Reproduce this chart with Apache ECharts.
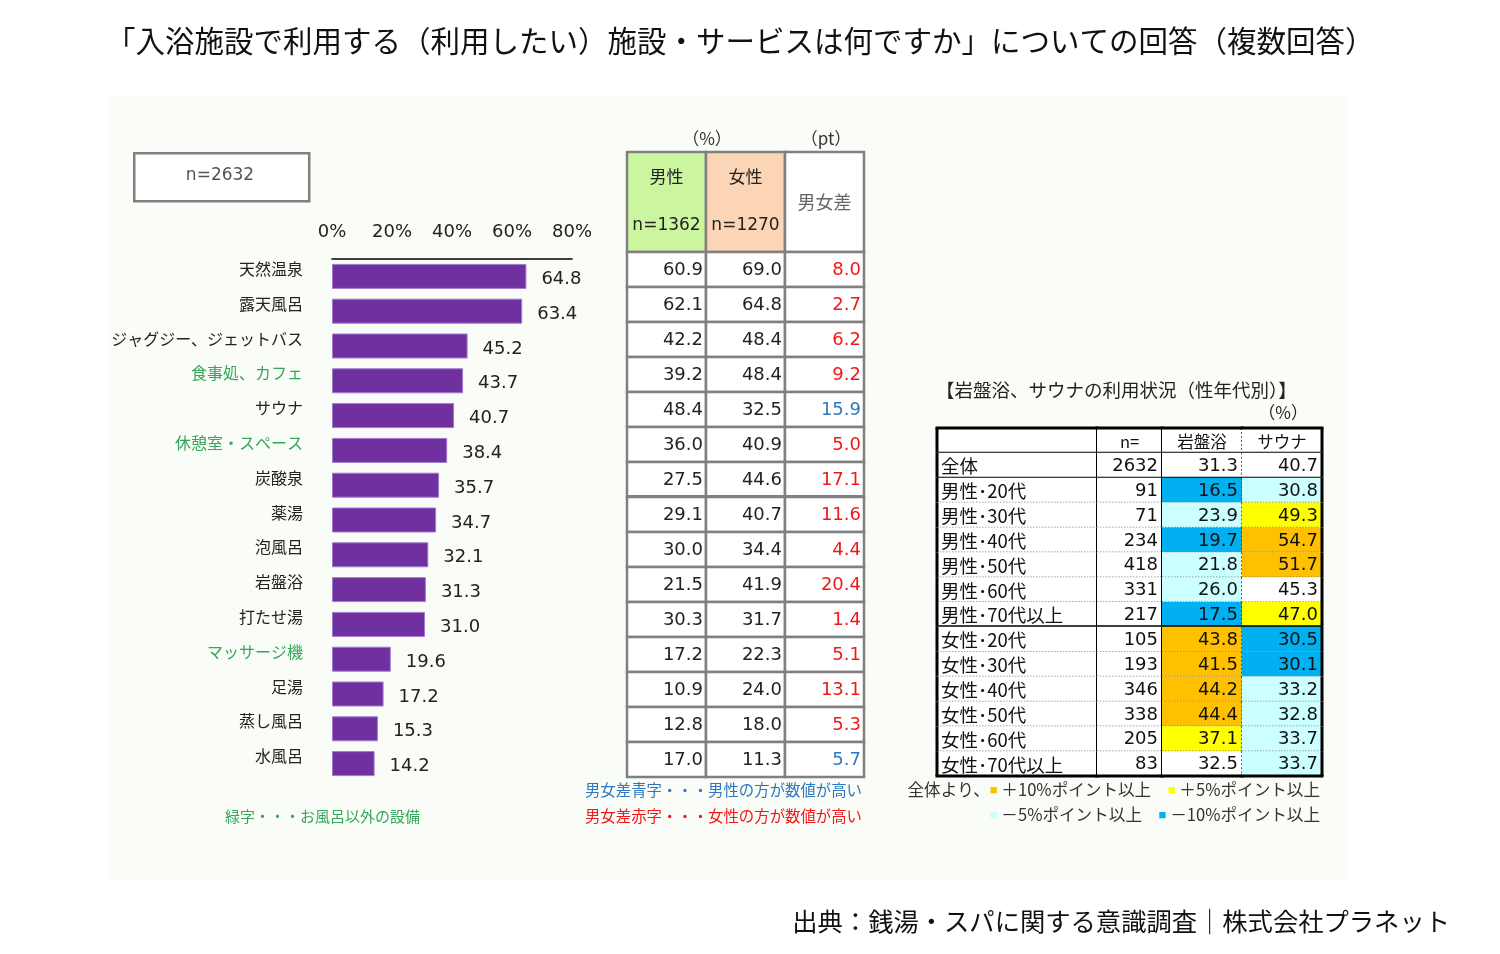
<!DOCTYPE html>
<html><head><meta charset="utf-8">
<script src="https://cdn.jsdelivr.net/npm/echarts@6/dist/echarts.min.js"></script>
<style>html,body{margin:0;padding:0;background:#fff}#c{width:1500px;height:954px}</style>
</head><body><div id="c"></div>
<script>
// ---------- data ----------
const categories = ['天然温泉','露天風呂','ジャグジー、ジェットバス','食事処、カフェ','サウナ','休憩室・スペース','炭酸泉','薬湯','泡風呂','岩盤浴','打たせ湯','マッサージ機','足湯','蒸し風呂','水風呂'];
const nonBathItems = ['食事処、カフェ','休憩室・スペース','マッサージ機'];
const totalValues = [64.8,63.4,45.2,43.7,40.7,38.4,35.7,34.7,32.1,31.3,31.0,19.6,17.2,15.3,14.2];
const axisMin = 0, axisMax = 80, axisStep = 20;
const maleValues = [60.9,62.1,42.2,39.2,48.4,36.0,27.5,29.1,30.0,21.5,30.3,17.2,10.9,12.8,17.0];
const femaleValues = [69.0,64.8,48.4,48.4,32.5,40.9,44.6,40.7,34.4,41.9,31.7,22.3,24.0,18.0,11.3];
const genderGap = [8.0,2.7,6.2,9.2,15.9,5.0,17.1,11.6,4.4,20.4,1.4,5.1,13.1,5.3,5.7];
const genderHeaders = ['男性','女性','男女差'];
const genderN = ['n=1362','n=1270',''];
const segRows = ['全体','男性･20代','男性･30代','男性･40代','男性･50代','男性･60代','男性･70代以上','女性･20代','女性･30代','女性･40代','女性･50代','女性･60代','女性･70代以上'];
const segN = [2632,91,71,234,418,331,217,105,193,346,338,205,83];
const ganbanValues = [31.3,16.5,23.9,19.7,21.8,26.0,17.5,43.8,41.5,44.2,44.4,37.1,32.5];
const saunaValues = [40.7,30.8,49.3,54.7,51.7,45.3,47.0,30.5,30.1,33.2,32.8,33.7,33.7];
const segHeaders = ['', 'n=', '岩盤浴', 'サウナ'];

// ---------- style ----------
const JP = '"Noto Sans CJK JP"';
const NUM = '"DejaVu Sans"';
const GREEN = '#35a65a';
const BLUE_TXT = '#2f78c0';
const RED_TXT = '#f01818';
const C_ORANGE = '#ffc000', C_YELLOW = '#ffff00', C_CYAN = '#ccffff', C_BLUE = '#00b0f0';

function diffColor(v, base) {
  const d = v - base;
  if (d >= 10) return C_ORANGE;
  if (d >= 5) return C_YELLOW;
  if (d <= -10) return C_BLUE;
  if (d <= -5) return C_CYAN;
  return '#ffffff';
}

const chart = echarts.init(document.getElementById('c'), null, {renderer: 'canvas'});

function cellBox(api, c, r) {
  const p = api.coord([c, r]);
  const s = api.size([1, 1]);
  return {x0: p[0] - s[0] / 2, y0: p[1] - s[1] / 2, w: s[0], h: s[1]};
}
function txt(text, x, y, size, family, color, align) {
  return {type: 'text', style: {text: text, x: x, y: y, fontSize: size, fontFamily: family, fill: color, align: align, verticalAlign: 'middle'}};
}
function ln(x1, y1, x2, y2, color, w, dash) {
  return {type: 'line', shape: {x1: x1, y1: y1, x2: x2, y2: y2}, style: {stroke: color, lineWidth: w, lineDash: dash || null}};
}

// middle table header
function genderHeadRender(params, api) {
  const c = api.value(0);
  const b = cellBox(api, c, 0);
  const fills = ['#ccf5a0', '#fbd5b5', '#ffffff'];
  const ch = [{type: 'rect', shape: {x: b.x0, y: b.y0, width: b.w, height: b.h}, style: {fill: fills[c], stroke: '#808080', lineWidth: 2.5}}];
  if (c < 2) {
    ch.push(txt(genderHeaders[c], b.x0 + b.w / 2, b.y0 + 25, 17, JP, '#222', 'center'));
    ch.push(txt(genderN[c], b.x0 + b.w / 2, b.y0 + 74, 17, NUM, '#222', 'center'));
  } else {
    ch.push(txt(genderHeaders[c], b.x0 + b.w / 2, b.y0 + 50, 18, JP, '#666', 'center'));
  }
  return {type: 'group', children: ch};
}
// middle table body
function genderBodyRender(params, api) {
  const c = api.value(0), r = api.value(1);
  const b = cellBox(api, c, r);
  let t, color = '#222';
  if (c === 0) t = maleValues[r].toFixed(1);
  else if (c === 1) t = femaleValues[r].toFixed(1);
  else { t = genderGap[r].toFixed(1); color = maleValues[r] > femaleValues[r] ? BLUE_TXT : RED_TXT; }
  const ch = [
    {type: 'rect', shape: {x: b.x0, y: b.y0, width: b.w, height: b.h}, style: {fill: '#fff', stroke: '#808080', lineWidth: 2.5}},
    txt(t, b.x0 + b.w - 3, b.y0 + b.h / 2 + 1, 18, NUM, color, 'right')
  ];
  if (r === 6) ch.push(ln(b.x0, b.y0 + b.h, b.x0 + b.w, b.y0 + b.h, '#808080', 4));
  return {type: 'group', children: ch};
}
// right table
function segRender(col) {
  return function (params, api) {
    const r = params.dataIndex;
    const b = cellBox(api, 0, r);
    let fill = '#fff', t = '', align = 'right', size = 18, fam = NUM, tx = b.x0 + b.w - 4;
    if (r === 0) {
      t = segHeaders[col]; align = 'center'; tx = b.x0 + b.w / 2; size = 16.5; fam = JP;
    } else {
      const i = r - 1;
      if (col === 0) { t = segRows[i]; align = 'left'; tx = b.x0 + 4; fam = JP; size = 18.5; }
      else if (col === 1) t = String(segN[i]);
      else {
        const arr = col === 2 ? ganbanValues : saunaValues;
        t = arr[i].toFixed(1);
        if (i > 0) fill = diffColor(arr[i], arr[0]);
      }
    }
    const x1 = b.x0, x2 = b.x0 + b.w, y1 = b.y0, y2 = b.y0 + b.h;
    const ch = [{type: 'rect', shape: {x: x1, y: y1, width: b.w, height: b.h}, style: {fill: fill}},
      txt(t, tx, (y1 + y2) / 2 + 1, size, fam, '#111', align)];
    if (r === 13) ch.push(ln(x1 - 1.5, y2, x2 + 1.5, y2, '#000', 3));
    else if (r === 7) ch.push(ln(x1, y2, x2, y2, '#000', 3));
    else if (r <= 1) ch.push(ln(x1, y2, x2, y2, '#000', 2));
    else ch.push(ln(x1, y2, x2, y2, '#888', 1.5, [1.5, 1.5]));
    if (r === 0) ch.push(ln(x1 - 1.5, y1, x2 + 1.5, y1, '#000', 3));
    if (col === 3) ch.push(ln(x2, y1, x2, y2, '#000', 3));
    else if (col === 2) ch.push(ln(x2, y1, x2, y2, '#333', 1.5, [2, 2]));
    else ch.push(ln(x2, y1, x2, y2, '#000', 2));
    if (col === 0) ch.push(ln(x1, y1, x1, y2, '#000', 3));
    return {type: 'group', children: ch};
  };
}

const hiddenCat = (data, inverse) => ({type: 'category', data: data, show: false, inverse: !!inverse});

const grids = [
  {left: 332, top: 259, width: 240, height: 522},
  {left: 627, top: 152, width: 237, height: 100},
  {left: 627, top: 252, width: 237, height: 525},
  {left: 937, top: 428, width: 160, height: 348},
  {left: 1097, top: 428, width: 65, height: 348},
  {left: 1162, top: 428, width: 80, height: 348},
  {left: 1242, top: 428, width: 80, height: 348}
];

const segYData = ['header'].concat(segRows);
const xAxes = [
  {type: 'value', gridIndex: 0, min: axisMin, max: axisMax, interval: axisStep, position: 'top',
    axisLine: {show: true, lineStyle: {color: '#000', width: 1.5}}, axisTick: {show: false}, splitLine: {show: false},
    axisLabel: {formatter: '{value}%', fontSize: 18, fontFamily: NUM, color: '#222', margin: 18}},
  Object.assign(hiddenCat(genderHeaders), {gridIndex: 1}),
  Object.assign(hiddenCat(genderHeaders), {gridIndex: 2}),
  Object.assign(hiddenCat(['c0']), {gridIndex: 3}),
  Object.assign(hiddenCat(['c1']), {gridIndex: 4}),
  Object.assign(hiddenCat(['c2']), {gridIndex: 5}),
  Object.assign(hiddenCat(['c3']), {gridIndex: 6})
];
const yAxes = [
  {type: 'category', gridIndex: 0, data: categories, inverse: true,
    axisLine: {show: false}, axisTick: {show: false},
    axisLabel: {fontSize: 16, fontFamily: JP, margin: 29, verticalAlign: 'bottom', lineHeight: 15,
      color: (v) => nonBathItems.indexOf(v) >= 0 ? GREEN : '#222'}},
  Object.assign(hiddenCat(['h']), {gridIndex: 1}),
  Object.assign(hiddenCat(categories, true), {gridIndex: 2}),
  Object.assign(hiddenCat(segYData, true), {gridIndex: 3}),
  Object.assign(hiddenCat(segYData, true), {gridIndex: 4}),
  Object.assign(hiddenCat(segYData, true), {gridIndex: 5}),
  Object.assign(hiddenCat(segYData, true), {gridIndex: 6})
];

const genderBodyData = [];
for (let r = 0; r < categories.length; r++) for (let c = 0; c < 3; c++) genderBodyData.push([c, r]);
const segData = segYData.map((_, i) => [0, i]);

const series = [
  {type: 'bar', xAxisIndex: 0, yAxisIndex: 0, data: totalValues, barWidth: 25,
    itemStyle: {color: '#7030a0', borderColor: '#a07ccc', borderWidth: 1},
    label: {show: true, position: 'right', distance: 15, offset: [0, 3], fontSize: 18, fontFamily: NUM, color: '#222',
      formatter: (p) => p.value.toFixed(1)}},
  {type: 'custom', xAxisIndex: 1, yAxisIndex: 1, data: [[0, 0], [1, 0], [2, 0]], renderItem: genderHeadRender},
  {type: 'custom', xAxisIndex: 2, yAxisIndex: 2, data: genderBodyData, renderItem: genderBodyRender},
  {type: 'custom', xAxisIndex: 3, yAxisIndex: 3, data: segData, renderItem: segRender(0)},
  {type: 'custom', xAxisIndex: 4, yAxisIndex: 4, data: segData, renderItem: segRender(1)},
  {type: 'custom', xAxisIndex: 5, yAxisIndex: 5, data: segData, renderItem: segRender(2)},
  {type: 'custom', xAxisIndex: 6, yAxisIndex: 6, data: segData, renderItem: segRender(3)}
];

const graphic = [
  {type: 'rect', left: 107, top: 95, z: -10, shape: {width: 1240, height: 785}, style: {fill: '#fafcf7'}},
  {type: 'text', left: 106, top: 26, style: {text: '「入浴施設で利用する（利用したい）施設・サービスは何ですか」についての回答（複数回答）', fontSize: 29.5, fontFamily: JP, fill: '#111'}},
  {type: 'text', right: 50, top: 909, style: {text: '出典：銭湯・スパに関する意識調査｜株式会社プラネット', fontSize: 25.3, fontFamily: JP, fill: '#111'}},
  {type: 'rect', left: 133, top: 152, shape: {width: 175, height: 48}, style: {fill: '#fff', stroke: '#808080', lineWidth: 2.5}},
  {type: 'text', x: 220, y: 176, style: {text: 'n=2632', fontSize: 17, fontFamily: NUM, fill: '#555', align: 'center', verticalAlign: 'middle'}},
  {type: 'text', x: 225, y: 816, style: {text: '緑字・・・お風呂以外の設備', fontSize: 15, fontFamily: JP, fill: GREEN, verticalAlign: 'middle'}},
  {type: 'text', x: 707, y: 139, style: {text: '（%）', fontSize: 17, fontFamily: JP, fill: '#333', align: 'center', verticalAlign: 'middle'}},
  {type: 'text', x: 826, y: 139, style: {text: '（pt）', fontSize: 17, fontFamily: JP, fill: '#333', align: 'center', verticalAlign: 'middle'}},
  {type: 'text', x: 862, y: 790, style: {text: '男女差青字・・・男性の方が数値が高い', fontSize: 15.4, fontFamily: JP, fill: BLUE_TXT, align: 'right', verticalAlign: 'middle'}},
  {type: 'text', x: 862, y: 816, style: {text: '男女差赤字・・・女性の方が数値が高い', fontSize: 15.4, fontFamily: JP, fill: RED_TXT, align: 'right', verticalAlign: 'middle'}},
  {type: 'text', x: 936, y: 390, style: {text: '【岩盤浴、サウナの利用状況（性年代別）】', fontSize: 18.5, fontFamily: JP, fill: '#222', verticalAlign: 'middle'}},
  {type: 'text', x: 1308, y: 413, style: {text: '（%）', fontSize: 17, fontFamily: JP, fill: '#222', align: 'right', verticalAlign: 'middle'}},
  {type: 'text', x: 1320, y: 790, style: {text: '全体より、{o|■} ＋10%ポイント以上　{y|■} ＋5%ポイント以上', fontSize: 16.6, fontFamily: JP, fill: '#333', align: 'right', verticalAlign: 'middle',
    rich: {o: {fill: C_ORANGE, fontSize: 13}, y: {fill: C_YELLOW, fontSize: 13}}}},
  {type: 'text', x: 1320, y: 815, style: {text: '{c|■} －5%ポイント以上　{b|■} －10%ポイント以上', fontSize: 16.6, fontFamily: JP, fill: '#333', align: 'right', verticalAlign: 'middle',
    rich: {c: {fill: C_CYAN, fontSize: 13}, b: {fill: C_BLUE, fontSize: 13}}}}
];

chart.setOption({
  animation: false,
  backgroundColor: '#ffffff',
  grid: grids,
  xAxis: xAxes,
  yAxis: yAxes,
  series: series,
  graphic: graphic
});
</script>
</body></html>
